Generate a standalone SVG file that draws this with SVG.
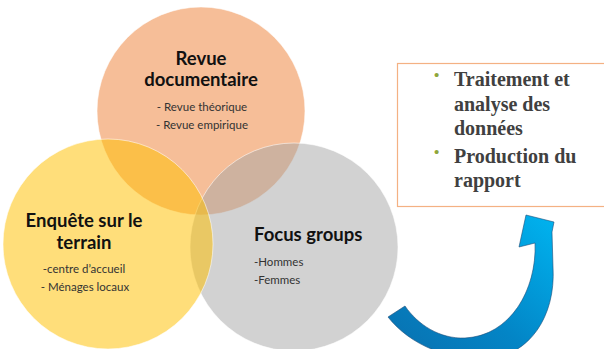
<svg xmlns="http://www.w3.org/2000/svg" width="604" height="349" viewBox="0 0 604 349">
<style>
.circ{stroke:#fff;stroke-opacity:.55;stroke-width:1}
.ttl{font-family:Lato,"Liberation Sans",sans-serif;font-weight:bold;font-size:18.5px;fill:#111}
.sub{font-family:Lato,"Liberation Sans",sans-serif;font-size:11.5px;fill:#333}
.box{font-family:"Liberation Serif",serif;font-weight:bold;font-size:20px;fill:#404040}
.bul{font-family:"Liberation Sans",sans-serif;font-size:15px;fill:#8FA63A}
</style>
<defs>
<linearGradient id="arrowGrad" x1="0" y1="1" x2="1" y2="0">
<stop offset="0" stop-color="#0A6FAE"/>
<stop offset="0.45" stop-color="#0385C6"/>
<stop offset="1" stop-color="#00B4F0"/>
</linearGradient>
</defs>
<rect width="604" height="349" fill="#fff"/>
<g id="node-revue">
<circle class="circ" cx="201" cy="111" r="104" fill="#ED7D31" fill-opacity="0.5"/>
<text class="ttl" x="201" y="65" text-anchor="middle">Revue</text>
<text class="ttl" x="201" y="86" text-anchor="middle">documentaire</text>
<text class="sub" x="202" y="111" text-anchor="middle">- Revue théorique</text>
<text class="sub" x="202" y="129" text-anchor="middle">- Revue empirique</text>
</g>
<g id="node-focus">
<circle class="circ" cx="294" cy="247" r="104" fill="#A5A5A5" fill-opacity="0.5"/>
<text class="ttl" x="254" y="241">Focus groups</text>
<text class="sub" x="254" y="266">-Hommes</text>
<text class="sub" x="254" y="284">-Femmes</text>
</g>
<g id="node-enquete">
<circle class="circ" cx="108" cy="244" r="105" fill="#FFC000" fill-opacity="0.52"/>
<text class="ttl" x="84" y="227" text-anchor="middle">Enquête sur le</text>
<text class="ttl" x="84" y="249" text-anchor="middle">terrain</text>
<text class="sub" x="84" y="273" text-anchor="middle">-centre d’accueil</text>
<text class="sub" x="85" y="291" text-anchor="middle">- Ménages locaux</text>
</g>
<g id="node-box">
<rect x="397.5" y="63.5" width="210" height="143" fill="#fff" stroke="#F4B183" stroke-width="1.2"/>
<text class="bul" x="434" y="80">•</text>
<text class="box" x="454" y="86">Traitement et</text>
<text class="box" x="454" y="111">analyse des</text>
<text class="box" x="454" y="135">données</text>
<text class="bul" x="434" y="157">•</text>
<text class="box" x="454" y="163">Production du</text>
<text class="box" x="454" y="187">rapport</text>
</g>
<g id="connectors">
<path d="M388,317 C410,345 450,362 492,358 C528,354 556,318 553,267 L552,232 L554,222 L526,215 L519,247 L535,243 C537,290 510,336 465,338 C440,339 418,325 405,306 Z" fill="url(#arrowGrad)" stroke="#1F4E79" stroke-width="0.6"/>
</g>
</svg>
